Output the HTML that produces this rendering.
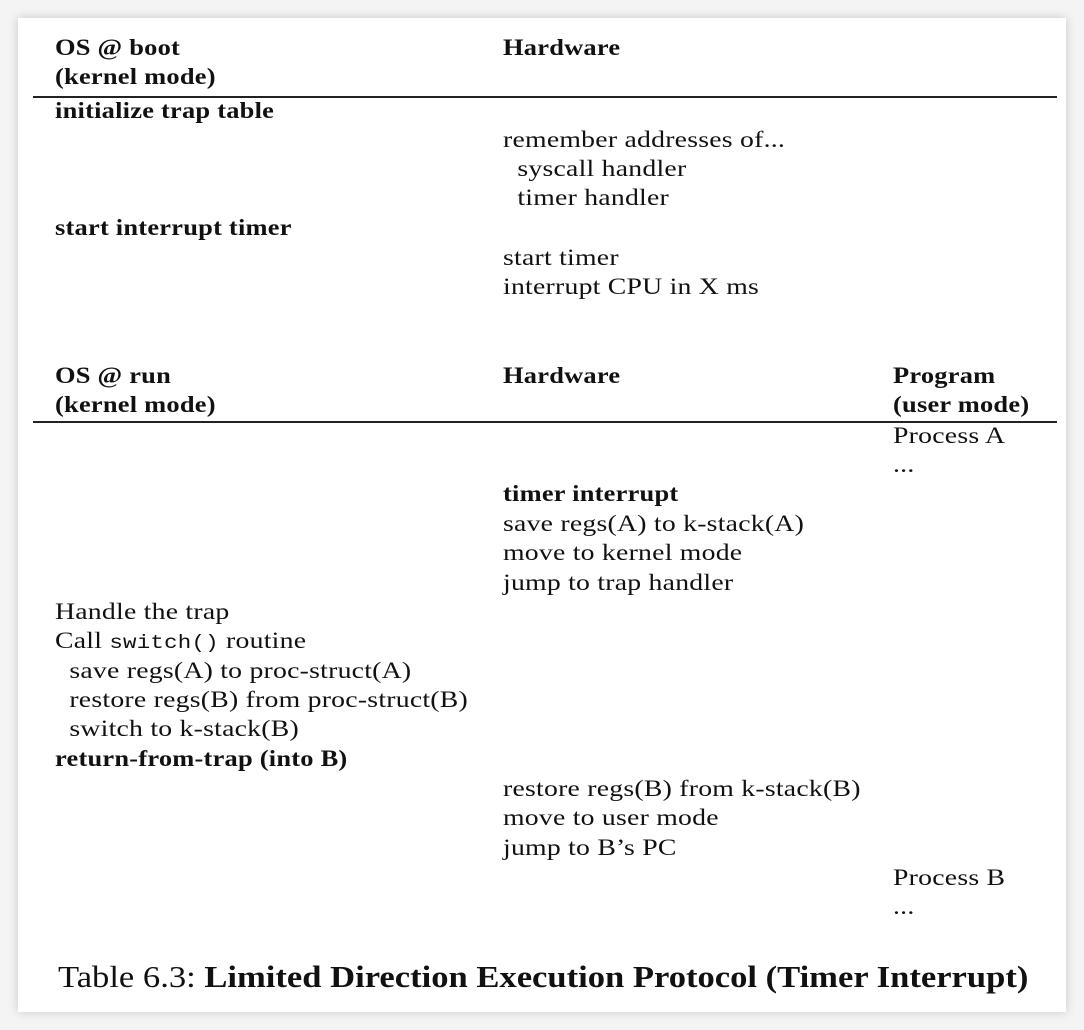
<!DOCTYPE html>
<html><head><style>
html,body{margin:0;padding:0;background:#f4f4f4;}
body{width:1084px;height:1030px;position:relative;overflow:hidden;font-family:"Liberation Serif",serif;color:#111;}
.card{position:absolute;left:18px;top:18px;width:1048px;height:994px;background:#fff;box-shadow:0 0 10px rgba(0,0,0,0.18);}
.t{position:absolute;font-size:23.5px;line-height:30px;white-space:pre;letter-spacing:0.2px;transform:scaleX(1.18);transform-origin:0 50%;}
.t.b{transform:scaleX(1.125);}
.b{font-weight:bold;}
.hr{position:absolute;left:33px;width:1024px;height:1.5px;background:#222;}
code{font-family:"Liberation Mono",monospace;font-size:19px;}
.cap{position:absolute;left:58px;top:956px;font-size:31px;line-height:42px;white-space:pre;transform:scaleX(1.115);transform-origin:0 50%;}
</style></head><body>
<div class="card"></div>
<div class="t b" style="left:55px;top:33px">OS @ boot</div>
<div class="t b" style="left:55px;top:62px">(kernel mode)</div>
<div class="t b" style="left:503px;top:33px">Hardware</div>
<div class="hr" style="top:96px"></div>
<div class="t b" style="left:55px;top:96px">initialize trap table</div>
<div class="t" style="left:503px;top:125px">remember addresses of...</div>
<div class="t" style="left:503px;top:154px">  syscall handler</div>
<div class="t" style="left:503px;top:183px">  timer handler</div>
<div class="t b" style="left:55px;top:213px">start interrupt timer</div>
<div class="t" style="left:503px;top:243px">start timer</div>
<div class="t" style="left:503px;top:272px">interrupt CPU in X ms</div>

<div class="t b" style="left:55px;top:361px">OS @ run</div>
<div class="t b" style="left:55px;top:390px">(kernel mode)</div>
<div class="t b" style="left:503px;top:361px">Hardware</div>
<div class="t b" style="left:893px;top:361px">Program</div>
<div class="t b" style="left:893px;top:390px">(user mode)</div>
<div class="hr" style="top:421px"></div>
<div class="t" style="left:893px;top:421px">Process A</div>
<div class="t" style="left:893px;top:450px">...</div>
<div class="t b" style="left:503px;top:479px">timer interrupt</div>
<div class="t" style="left:503px;top:509px">save regs(A) to k-stack(A)</div>
<div class="t" style="left:503px;top:538px">move to kernel mode</div>
<div class="t" style="left:503px;top:568px">jump to trap handler</div>
<div class="t" style="left:55px;top:597px">Handle the trap</div>
<div class="t" style="left:55px;top:626px">Call <code>switch()</code> routine</div>
<div class="t" style="left:55px;top:656px">  save regs(A) to proc-struct(A)</div>
<div class="t" style="left:55px;top:685px">  restore regs(B) from proc-struct(B)</div>
<div class="t" style="left:55px;top:714px">  switch to k-stack(B)</div>
<div class="t b" style="left:55px;top:744px">return-from-trap (into B)</div>
<div class="t" style="left:503px;top:774px">restore regs(B) from k-stack(B)</div>
<div class="t" style="left:503px;top:803px">move to user mode</div>
<div class="t" style="left:503px;top:833px">jump to B’s PC</div>
<div class="t" style="left:893px;top:863px">Process B</div>
<div class="t" style="left:893px;top:892px">...</div>
<div class="cap">Table 6.3: <b>Limited Direction Execution Protocol (Timer Interrupt)</b></div>
</body></html>
